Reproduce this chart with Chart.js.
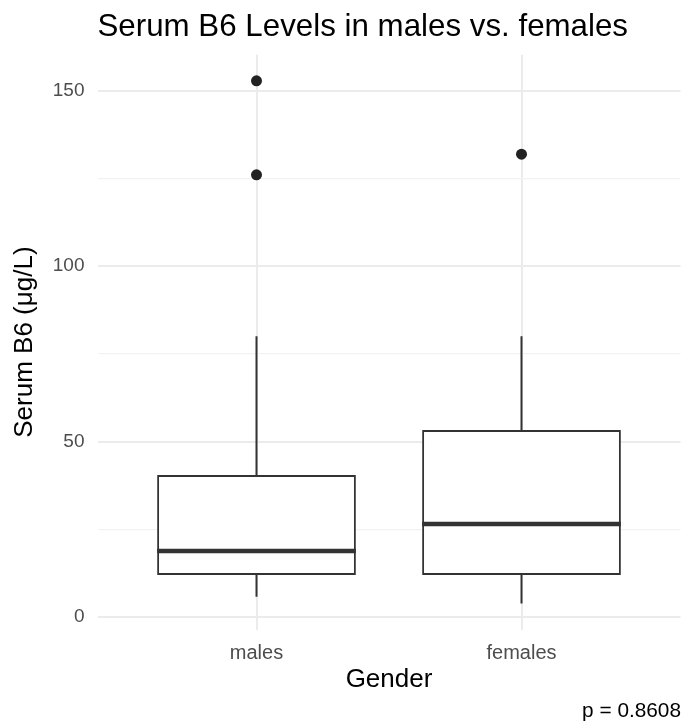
<!DOCTYPE html>
<html>
<head>
<meta charset="utf-8">
<script src="https://cdn.jsdelivr.net/npm/chart.js@4/dist/chart.umd.min.js"></script>
<style>
  body { margin: 0; background: #fff; }
</style>
</head>
<body>
<canvas id="boxChart" width="686" height="728"></canvas>
<script>
// values
const categories = ['males', 'females'];
const whiskerLow = [5.8, 3.9];
const q1 = [12, 12];
const medians = [18.8, 26.5];
const q3 = [40.5, 53.3];
const whiskerHigh = [80, 80];
const outliers = [[152.8, 126], [131.9]];
const yMajorTicks = [0, 50, 100, 150];
const yMinorTicks = [25, 75, 125];

const halfBox = 0.375; // ggplot default box width 0.75
const ink = '#333333';
const font = 'Liberation Sans, Arial, Helvetica, sans-serif';

// ggplot style 5% expansion on the y range
const allVals = whiskerLow.concat(whiskerHigh, outliers.flat());
const lo = Math.min(...allVals), hi = Math.max(...allVals);
const pad = (hi - lo) * 0.05;

const datasets = [];

// whiskers
categories.forEach((c, i) => {
    datasets.push({
        type: 'line', order: 3,
        data: [{ x: i + 1, y: q3[i] }, { x: i + 1, y: whiskerHigh[i] }],
        borderColor: ink, borderWidth: 2, pointRadius: 0, fill: false
    });
    datasets.push({
        type: 'line', order: 3,
        data: [{ x: i + 1, y: q1[i] }, { x: i + 1, y: whiskerLow[i] }],
        borderColor: ink, borderWidth: 2, pointRadius: 0, fill: false
    });
});

// boxes (floating bars from q1 to q3)
datasets.push({
    type: 'bar', order: 2,
    data: categories.map((c, i) => ({ x: i + 1, y: [q1[i], q3[i]] })),
    backgroundColor: '#ffffff',
    borderColor: ink,
    borderWidth: 2,
    borderSkipped: false,
    categoryPercentage: 1,
    barPercentage: halfBox * 2
});

// medians
categories.forEach((c, i) => {
    datasets.push({
        type: 'line', order: 1,
        data: [{ x: i + 1 - halfBox, y: medians[i] }, { x: i + 1 + halfBox, y: medians[i] }],
        borderColor: ink, borderWidth: 4.5, pointRadius: 0, fill: false
    });
});

// outliers
datasets.push({
    type: 'scatter', order: 0,
    data: outliers.flatMap((vals, i) => vals.map(v => ({ x: i + 1, y: v }))),
    pointRadius: 5.5,
    pointBackgroundColor: '#222222',
    pointBorderWidth: 0
});

new Chart(document.getElementById('boxChart'), {
    type: 'bar',
    data: { datasets: datasets },
    options: {
        responsive: false,
        animation: false,
        layout: { padding: { left: 0, right: 5, top: 0, bottom: 4 } },
        plugins: {
            legend: { display: false },
            tooltip: { enabled: false },
            title: {
                display: true,
                text: 'Serum B6 Levels in males vs. females',
                align: 'start',
                fullSize: false,
                color: '#000',
                font: { family: font, size: 31.3, weight: 'normal' },
                padding: { top: 9, bottom: 8.1 }
            },
            subtitle: {
                display: true,
                text: 'p = 0.8608',
                position: 'bottom',
                align: 'end',
                color: '#000',
                font: { family: font, size: 20.8 },
                padding: { top: 3.5, bottom: 0 }
            }
        },
        scales: {
            x: {
                type: 'linear',
                min: 0.4,
                max: 2.6,
                offset: false,
                afterBuildTicks: s => { s.ticks = categories.map((c, i) => ({ value: i + 1 })); },
                afterFit: s => { s.height = 66; },
                grid: { color: '#ebebeb', lineWidth: 2, drawTicks: false, offset: false },
                border: { display: false },
                ticks: {
                    padding: 12,
                    color: '#4d4d4d',
                    font: { family: font, size: 20 },
                    callback: v => categories[v - 1]
                },
                title: {
                    display: true,
                    text: 'Gender',
                    color: '#000',
                    font: { family: font, size: 26 },
                    padding: { top: 0, bottom: 0 }
                }
            },
            y: {
                min: lo - pad,
                max: hi + pad,
                afterBuildTicks: s => {
                    s.ticks = yMajorTicks.concat(yMinorTicks).sort((a, b) => a - b).map(v => ({ value: v }));
                },
                afterFit: s => { s.width = 97.5; },
                grid: {
                    drawTicks: false,
                    color: ctx => yMajorTicks.includes(ctx.tick.value) ? '#ebebeb' : '#f2f2f2',
                    lineWidth: ctx => yMajorTicks.includes(ctx.tick.value) ? 2 : 1.2
                },
                border: { display: false },
                ticks: {
                    padding: 13,
                    color: '#4d4d4d',
                    font: { family: font, size: 19 },
                    callback: v => yMajorTicks.includes(v) ? v : ''
                },
                title: {
                    display: true,
                    text: 'Serum B6 (\u03bcg/L)',
                    color: '#000',
                    font: { family: font, size: 26 },
                    padding: { top: 9, bottom: 0 }
                }
            }
        }
    }
});
</script>
</body>
</html>
